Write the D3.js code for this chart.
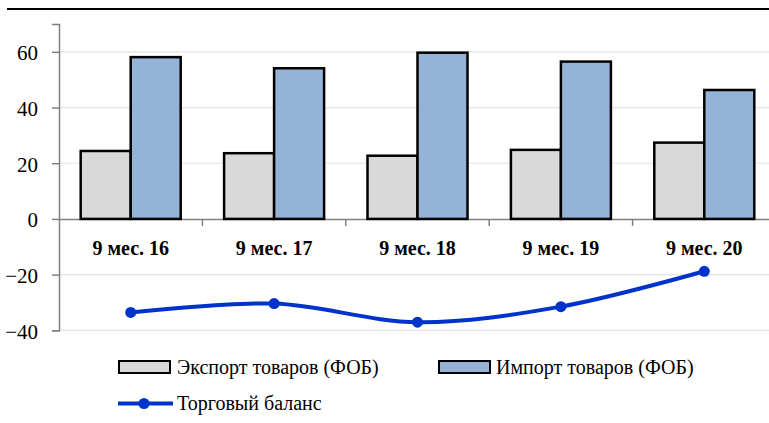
<!DOCTYPE html>
<html><head><meta charset="utf-8">
<script src="https://cdn.jsdelivr.net/npm/d3@7"></script>
<style>body{margin:0;background:#fff}svg{display:block}
svg text{font-family:"Liberation Serif","Times New Roman",serif}</style>
</head><body>
<svg id="c" width="769" height="423" font-family="Liberation Serif"></svg>
<script>
const categories = ["9 мес. 16","9 мес. 17","9 мес. 18","9 мес. 19","9 мес. 20"];
const exportValues = [24.4, 23.6, 22.7, 24.8, 27.4];
const importValues = [58.1, 54.1, 59.7, 56.5, 46.3];
const balanceValues = [-33.6, -30.4, -37.1, -31.5, -18.8];
const yTicks = [-40, -20, 0, 20, 40, 60];
const seriesNames = ["Экспорт товаров (ФОБ)", "Импорт товаров (ФОБ)", "Торговый баланс"];

const svg = d3.select("#c");
const FONT = "Liberation Serif, Times New Roman, serif";
const x = d3.scaleBand().domain(categories).range([59, 776]);
const y = d3.scaleLinear().domain([-40, 70]).range([330.3, 24]);
const bw = 50;

// top rule
svg.append("line").attr("x1",7).attr("x2",769).attr("y1",9).attr("y2",9)
  .attr("stroke","#000").attr("stroke-width",2);

// grid
svg.append("g").selectAll("line").data(yTicks.filter(d=>d!==0)).join("line")
  .attr("x1",59).attr("x2",769).attr("y1",d=>y(d)).attr("y2",d=>y(d))
  .attr("stroke","#e3e3e3").attr("stroke-width",1.2);

// y axis
const yAxis = svg.append("g").attr("transform","translate(59,0)")
  .call(d3.axisLeft(y).tickValues(yTicks).tickSize(7).tickPadding(14));
yAxis.attr("font-family",FONT);
yAxis.select(".domain").attr("stroke","#808080").attr("stroke-width",1.5);
yAxis.selectAll(".tick line").attr("stroke","#808080").attr("stroke-width",1.5);
yAxis.selectAll(".tick text").attr("font-family",FONT).attr("font-size",21)
  .attr("fill","#000").attr("dy","0.38em");

// x axis line at 0
const xAxis = svg.append("g").attr("transform",`translate(0,${y(0)})`)
  .call(d3.axisBottom(x).tickSize(0).tickPadding(22));
xAxis.attr("font-family",FONT);
xAxis.select(".domain").attr("stroke","#808080").attr("stroke-width",1.5);
xAxis.selectAll(".tick text").attr("font-family",FONT).attr("font-size",20)
  .attr("font-weight","bold").attr("fill","#000");
// boundary ticks
svg.append("g").selectAll("line").data(categories.slice(1)).join("line")
  .attr("x1",d=>x(d)).attr("x2",d=>x(d)).attr("y1",y(0)).attr("y2",y(0)+7)
  .attr("stroke","#808080").attr("stroke-width",1.5);

// bars
const cx = d => x(d) + x.bandwidth()/2;
svg.append("g").selectAll("rect").data(categories).join("rect")
  .attr("x",d=>cx(d)-bw).attr("width",bw)
  .attr("y",(d,i)=>y(exportValues[i])).attr("height",(d,i)=>y(0)-y(exportValues[i]))
  .attr("fill","#d9d9d9").attr("stroke","#000").attr("stroke-width",2.5);
svg.append("g").selectAll("rect").data(categories).join("rect")
  .attr("x",d=>cx(d)).attr("width",bw)
  .attr("y",(d,i)=>y(importValues[i])).attr("height",(d,i)=>y(0)-y(importValues[i]))
  .attr("fill","#95b3d7").attr("stroke","#000").attr("stroke-width",2.5);

// line
const line = d3.line().x((d,i)=>cx(categories[i])).y(d=>y(d)).curve(d3.curveCatmullRom);
svg.append("path").datum(balanceValues).attr("d",line)
  .attr("fill","none").attr("stroke","#0033cc").attr("stroke-width",4);
svg.append("g").selectAll("circle").data(balanceValues).join("circle")
  .attr("cx",(d,i)=>cx(categories[i])).attr("cy",d=>y(d)).attr("r",5.5).attr("fill","#0033cc");

// legend
const lg = svg.append("g");
lg.append("rect").attr("x",119).attr("y",361).attr("width",51).attr("height",12)
  .attr("fill","#d9d9d9").attr("stroke","#000").attr("stroke-width",2);
lg.append("text").attr("x",177).attr("y",374).text(seriesNames[0]);
lg.append("rect").attr("x",439).attr("y",361).attr("width",51).attr("height",12)
  .attr("fill","#95b3d7").attr("stroke","#000").attr("stroke-width",2);
lg.append("text").attr("x",496).attr("y",374).text(seriesNames[1]);
lg.append("line").attr("x1",118).attr("x2",173).attr("y1",403.5).attr("y2",403.5)
  .attr("stroke","#0033cc").attr("stroke-width",4);
lg.append("circle").attr("cx",144).attr("cy",403.5).attr("r",5.5).attr("fill","#0033cc");
lg.append("text").attr("x",177).attr("y",410).text(seriesNames[2]);
lg.selectAll("text").attr("font-family",FONT).attr("font-size",20).attr("fill","#000");
</script>
</body></html>
